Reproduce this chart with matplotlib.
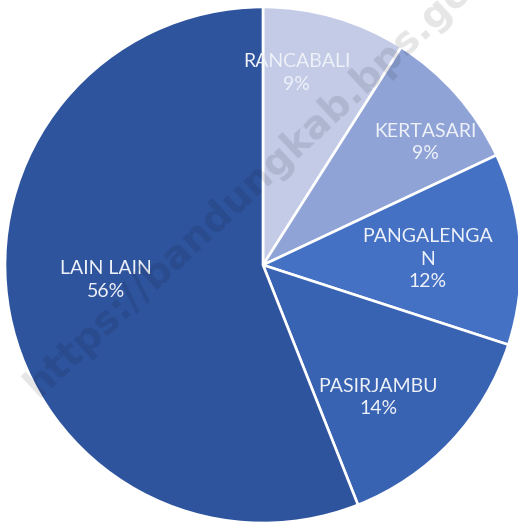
import numpy as np
import matplotlib.pyplot as plt

# share per kecamatan, clockwise from 12 o'clock
names = ["RANCABALI", "KERTASARI", "PANGALENGA\nN", "PASIRJAMBU", "LAIN LAIN"]
shares = [9, 9, 12, 14, 56]
colors = ["#c3cbe7", "#8fa3d7", "#4471c4", "#3862b2", "#2f549e"]
# label placement: fraction of radius, angle nudge from wedge middle (deg)
label_r = [0.755, 0.79, 0.64, 0.68, 0.61]
label_nudge = [6.2, -4.4, -1.6, -5.8, -5.3]

fig = plt.figure(figsize=(5.18, 5.25), dpi=100)
ax = fig.add_axes([0, 0, 1, 1])

wedges, _ = ax.pie(shares, colors=colors, startangle=90, counterclock=False,
                   radius=1.0, wedgeprops=dict(edgecolor="white", linewidth=1.9))

total = sum(shares)
for w, name, val, r, dt in zip(wedges, names, shares, label_r, label_nudge):
    theta = np.deg2rad((w.theta1 + w.theta2) / 2 + dt)
    ax.text(r * np.cos(theta), r * np.sin(theta), f"{name}\n{val / total:.0%}",
            ha="center", va="center", color="#eef1f8", fontsize=14,
            family="Lato", linespacing=1.4)

# faint watermark across the chart
ax.text(0.52, 0.68, "https://bandungkab.bps.go.id", transform=ax.transAxes,
        rotation=43, ha="center", va="center", fontsize=28, fontweight="bold",
        color="black", alpha=0.10, family="DejaVu Sans")

ax.set_aspect("auto")
ax.set_xlim(-263 / 258, 255 / 258)
ax.set_ylim(-260 / 258, 265 / 258)
ax.axis("off")

fig.savefig("out.png", dpi=100, facecolor="white")
